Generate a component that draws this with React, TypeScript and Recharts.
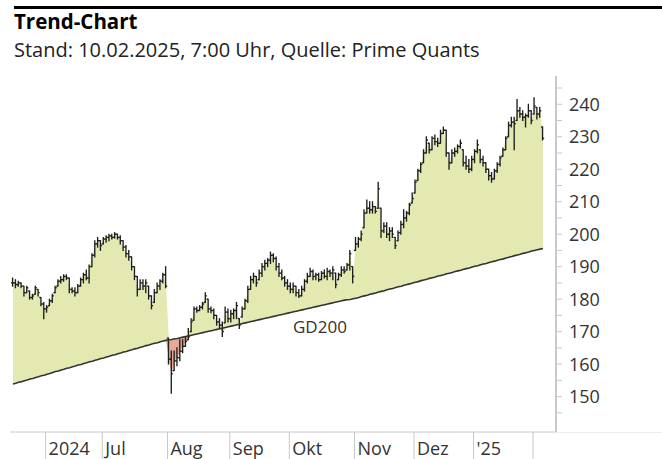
import { ComposedChart, Area, Line, Bar, XAxis, YAxis } from "recharts";

// month separators (first trading day index) and their labels
const monthLabels = ["2024", "Jul", "Aug", "Sep", "Okt", "Nov", "Dez", "'25", ""];
const monthStartIdx = [12, 32, 55, 77, 98, 121, 142, 163, 184];
const yTicks = [145, 150, 155, 160, 165, 170, 175, 180, 185, 190, 195, 200, 205, 210, 215, 220, 225, 230, 235, 240, 245];

// daily bars, late May 2024 .. 7 Feb 2025
const lows = [
  184, 183.5, 184, 183.5, 181, 182, 180, 180, 181.5, 181,
  178, 174, 176, 178, 179, 182, 184, 185, 185.5, 186,
  182, 182, 181, 182, 184, 185, 186, 185, 190, 193,
  196, 195, 197, 197.5, 198, 198.5, 198.8, 198.5, 197, 195,
  193, 192, 189, 186, 181, 183, 183, 182, 180, 177,
  179, 182, 183, 185, 183.5, 160, 151, 158, 159.5, 161,
  163.5, 165.5, 167.5, 170, 173.5, 176, 176.5, 177, 179, 176,
  175.8, 174, 172, 171, 168.5, 172.7, 173, 173, 174, 174,
  171, 174.5, 177, 179, 183, 185, 184, 186, 187, 189,
  190, 191, 191.5, 189, 187, 186, 184, 183, 182, 182,
  181, 180.5, 181, 182.5, 185, 187, 186, 186, 185.5, 186,
  186.5, 186, 187, 186, 183.5, 186, 187, 188, 189, 189,
  185, 195, 196, 198, 202, 206.5, 206.5, 206.5, 206.5, 208,
  199, 200.5, 199, 198, 199, 195.6, 198, 200, 202, 204,
  206, 209.6, 212.7, 216.5, 219, 222, 225, 225, 226, 227.5,
  227, 228, 231, 224, 220, 222, 224, 225, 226.5, 221,
  220, 219, 219.5, 222, 225, 222, 221, 219, 216.7, 216,
  217, 219, 221, 224, 226, 230, 233, 226, 235, 236,
  235, 233, 236, 234, 237, 235.5, 236, 229,
];
const highs = [
  186.5, 186, 185.5, 185, 184, 184, 182.5, 181.5, 184, 183,
  180.5, 179, 178, 180, 181.5, 184, 186, 187, 187.5, 187.5,
  186.5, 183.5, 183.5, 184.5, 186.5, 188, 189, 190.5, 194, 198,
  199, 198, 199, 199.5, 200, 200, 200.5, 200, 199.5, 198,
  196.5, 195, 193, 190, 187, 186, 186, 186, 184, 181,
  183, 185, 186, 188, 190, 168, 164, 164, 165, 167.5,
  167.5, 168.5, 171, 174, 177.6, 177.6, 178, 179, 182, 180,
  177.6, 177, 175, 174, 173, 177.6, 177, 176.6, 177, 179,
  174, 177.6, 180, 184, 187, 188, 187, 189, 191, 192,
  192.5, 194.5, 194, 193, 191, 189, 187, 186, 185, 185,
  184, 183, 184, 186, 188, 189.5, 189, 188, 188, 188.5,
  189, 189.5, 189, 190, 188, 188, 190, 190, 191, 195,
  190, 199, 199, 201, 207.5, 210.5, 210, 210, 208.5, 216,
  208, 203.5, 203.5, 202, 202, 199, 201, 204, 207.5, 207,
  209.5, 212.7, 216.7, 220, 222, 226, 230, 228, 230, 230.5,
  229.5, 232, 233, 232, 225, 226, 226.5, 227.5, 229, 226,
  224, 223, 224, 226, 229, 226, 224, 222, 220, 219,
  220, 222, 224, 226.5, 230, 234.5, 236, 236, 241.5, 239,
  238, 237, 240, 238, 242, 239, 239, 233,
];
const closes = [
  185, 184.5, 185, 184, 182, 183.5, 180.5, 181, 183.5, 182,
  178.5, 177, 177.5, 179.5, 181, 183.5, 185.5, 186, 187, 186.5,
  183, 182.5, 182, 184, 186, 187.5, 186.5, 190, 193.5, 197,
  198, 196.5, 198.5, 199, 199.5, 199, 200, 199, 198, 196,
  194, 193, 190, 187, 183, 185, 184, 185, 181, 178,
  182, 184, 185.5, 187.5, 184, 161.5, 157, 161, 162, 164,
  165.5, 167, 168.4, 173, 177, 176.5, 177.5, 178.5, 181, 177,
  176.5, 175, 173, 172, 170, 176, 174, 175.5, 176.5, 178,
  172, 177, 179.5, 183, 186, 187, 185, 188, 190, 191,
  192, 193.5, 192.5, 190, 188, 186.5, 185, 184, 183, 184,
  182, 181, 183, 185.5, 187, 188.5, 187, 187.5, 186, 188,
  187, 188.5, 188, 189, 184.5, 187.5, 189, 188.5, 190.5, 194,
  187, 197, 198.5, 200, 206.5, 208, 207.5, 208.5, 207, 214,
  201, 202.5, 200, 201, 200, 196.5, 200.5, 203, 205, 206.5,
  209, 211, 216, 219.5, 221.5, 225, 229, 226, 229.5, 228.5,
  228, 231, 232, 225, 222, 225, 225.5, 227, 228, 222,
  221, 220, 223, 225.5, 227.5, 223, 222, 220, 218, 217,
  219.5, 221.5, 223.5, 226, 229.5, 233.5, 234.5, 234, 238, 237,
  236, 236.5, 238, 235, 239.5, 237, 238, 229.5,
];
const gd200 = [
  153.9, 154.1, 154.4, 154.6, 154.9, 155.1, 155.4, 155.6, 155.9, 156.1,
  156.4, 156.6, 156.9, 157.1, 157.4, 157.7, 157.9, 158.2, 158.4, 158.7,
  158.9, 159.2, 159.4, 159.7, 159.9, 160.2, 160.4, 160.7, 160.9, 161.2,
  161.4, 161.7, 161.9, 162.2, 162.4, 162.7, 162.9, 163.2, 163.4, 163.7,
  163.9, 164.2, 164.4, 164.7, 164.9, 165.2, 165.4, 165.7, 165.9, 166.2,
  166.4, 166.6, 166.9, 167.1, 167.3, 167.5, 167.6, 167.8, 167.9, 168.1,
  168.3, 168.5, 168.7, 168.9, 169.1, 169.3, 169.5, 169.7, 169.9, 170.1,
  170.3, 170.5, 170.7, 170.9, 171.1, 171.3, 171.5, 171.7, 171.9, 172.1,
  172.3, 172.5, 172.7, 172.9, 173.1, 173.3, 173.5, 173.7, 173.9, 174.1,
  174.3, 174.5, 174.7, 174.9, 175.1, 175.3, 175.5, 175.7, 175.9, 176.1,
  176.3, 176.5, 176.7, 176.9, 177.1, 177.3, 177.5, 177.7, 177.9, 178.1,
  178.3, 178.5, 178.7, 178.9, 179.1, 179.3, 179.5, 179.7, 179.8, 179.9,
  180.1, 180.3, 180.5, 180.8, 181.0, 181.2, 181.5, 181.7, 181.9, 182.2,
  182.4, 182.6, 182.9, 183.1, 183.3, 183.6, 183.8, 184.0, 184.3, 184.5,
  184.7, 185.0, 185.2, 185.4, 185.7, 185.9, 186.1, 186.4, 186.6, 186.8,
  187.1, 187.3, 187.5, 187.8, 188.0, 188.2, 188.5, 188.7, 188.9, 189.2,
  189.4, 189.6, 189.9, 190.1, 190.3, 190.6, 190.8, 191.0, 191.3, 191.5,
  191.7, 192.0, 192.2, 192.4, 192.7, 192.9, 193.1, 193.4, 193.6, 193.8,
  194.1, 194.3, 194.5, 194.8, 195.0, 195.2, 195.4, 195.6,
];

const data = closes.map((c, i) => ({
  i,
  close: c,
  low: lows[i],
  high: highs[i],
  open: i > 0 ? closes[i - 1] : c,
  gd: gd200[i],
  up: [gd200[i], Math.max(c, gd200[i])],
  down: [Math.min(c, gd200[i]), gd200[i]],
  range: [lows[i], highs[i]],
}));

const font = "'Open Sans', sans-serif";

function OhlcBar(props: any) {
  const { x, y, width, height, payload } = props;
  if (x == null || y == null || !payload) return null;
  const top = Math.min(y, y + height);
  const h = Math.abs(height);
  const cx = x + width / 2;
  const span = payload.high - payload.low || 1;
  const yAt = (v: number) => {
    const cl = Math.min(Math.max(v, payload.low), payload.high);
    return top + ((payload.high - cl) / span) * h;
  };
  return (
    <g stroke="#1e1e1e" strokeWidth={1.35}>
      <line x1={cx} x2={cx} y1={top - 0.5} y2={top + h + 0.5} />
      <line x1={cx - 1.6} x2={cx} y1={yAt(payload.open)} y2={yAt(payload.open)} />
      <line x1={cx} x2={cx + 1.6} y1={yAt(payload.close)} y2={yAt(payload.close)} />
    </g>
  );
}

function MonthTick(props: any) {
  const { x, y, index } = props;
  return (
    <g>
      <line x1={x} x2={x} y1={y} y2={y + 30} stroke="#c8c8c8" />
      <text x={x + 3} y={y + 23} fontSize={18} fill="#333" fontFamily={font}>
        {monthLabels[index]}
      </text>
    </g>
  );
}

function PriceTick(props: any) {
  const { x, y, payload } = props;
  const v = payload.value;
  return (
    <g>
      <line x1={x} x2={x + 6} y1={y} y2={y} stroke="#c8c8c8" />
      {v % 10 === 0 && (
        <text x={x + 13} y={y + 6.5} fontSize={18} fill="#333" fontFamily={font}>
          {v}
        </text>
      )}
    </g>
  );
}

export default function App() {
  return (
    <div style={{ position: "absolute", left: 0, top: 0, width: 662, height: 459, background: "#fff", fontFamily: font }}>
      <div style={{ position: "absolute", left: 14, top: 6, width: 648, height: 3, background: "#000" }} />
      <div style={{ position: "absolute", left: 14, top: 9, fontSize: 20.5, fontWeight: 700, lineHeight: "24px", color: "#000" }}>
        Trend-Chart
      </div>
      <div style={{ position: "absolute", left: 14, top: 38, fontSize: 20, lineHeight: "24px", color: "#222" }}>
        Stand: 10.02.2025, 7:00 Uhr, Quelle: Prime Quants
      </div>
      <div style={{ position: "absolute", left: 556, top: 432, width: 106, height: 1, background: "#eee" }} />
      <div style={{ position: "absolute", left: 0, top: 0 }}>
        <ComposedChart width={662} height={459} data={data} margin={{ top: 76, right: 0, bottom: 0, left: 10 }}>
          <XAxis
            dataKey="i"
            type="number"
            domain={[-1.06, 191.6]}
            allowDataOverflow
            ticks={monthStartIdx.map((m) => m - 0.5)}
            interval={0}
            tick={<MonthTick />}
            tickLine={false}
            tickSize={0}
            tickMargin={0}
            height={27}
            axisLine={{ stroke: "#c8c8c8" }}
          />
          <YAxis
            orientation="right"
            type="number"
            domain={[139.1, 248.7]}
            allowDataOverflow
            ticks={yTicks}
            interval={0}
            tick={<PriceTick />}
            tickLine={false}
            tickSize={0}
            tickMargin={0}
            width={106}
            axisLine={{ stroke: "#c8c8c8", strokeWidth: 2 }}
          />
          <Area dataKey="up" type="linear" stroke="none" fill="#e3e9b0" fillOpacity={1} isAnimationActive={false} />
          <Area dataKey="down" type="linear" stroke="none" fill="#e6aa96" fillOpacity={1} isAnimationActive={false} />
          <Line dataKey="gd" type="linear" stroke="#333" strokeWidth={1.6} dot={false} isAnimationActive={false} />
          <Bar dataKey="range" barSize={2} shape={<OhlcBar />} isAnimationActive={false} />
        </ComposedChart>
      </div>
      <div style={{ position: "absolute", left: 293, top: 315, fontSize: 17, lineHeight: "24px", color: "#333" }}>GD200</div>
    </div>
  );
}
